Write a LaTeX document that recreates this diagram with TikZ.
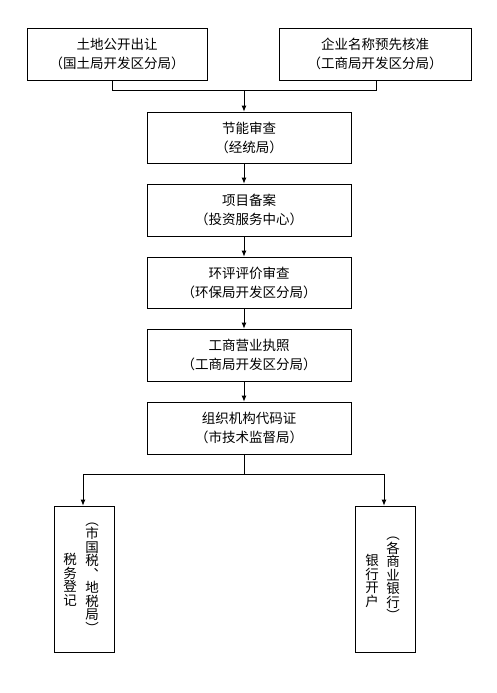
\documentclass[tikz,border=0pt]{standalone}
\usepackage{fontspec}
\setmainfont{Noto Sans CJK SC}
\usetikzlibrary{arrows.meta}
\begin{document}
\begin{tikzpicture}[x=1pt,y=-1pt,
  box/.style={draw,line width=0.8pt,inner sep=0pt,align=center,
    font=\fontsize{13.5}{19}\selectfont},
  vbox/.style={draw,line width=0.8pt,inner sep=0pt,minimum width=60pt,minimum height=146pt},
  vtext/.style={inner sep=0pt,align=center,font=\fontsize{13.5}{13.5}\selectfont},
  conn/.style={line width=0.8pt},
  arr/.style={line width=0.8pt,-{Latex[length=6pt,width=5pt]}}]
\useasboundingbox (0,0) rectangle (497,693);
\node[box,minimum width=180pt,minimum height=52pt] (b1) at (117,54) {土地公开出让\\（国土局开发区分局）};
\node[box,minimum width=192pt,minimum height=52pt] (b2) at (375,54) {企业名称预先核准\\（工商局开发区分局）};
\node[box,minimum width=204pt,minimum height=51pt] (b3) at (249,137.5) {节能审查\\（经统局）};
\node[box,minimum width=204pt,minimum height=52pt] (b4) at (249,210) {项目备案\\（投资服务中心）};
\node[box,minimum width=204pt,minimum height=51pt] (b5) at (249,282.5) {环评评价审查\\（环保局开发区分局）};
\node[box,minimum width=204pt,minimum height=52pt] (b6) at (249,355) {工商营业执照\\（工商局开发区分局）};
\node[box,minimum width=204pt,minimum height=52pt] (b7) at (249,428) {组织机构代码证\\（市技术监督局）};
\node[vbox] (b8) at (84,579) {};
\node[vbox] (b9) at (385,579) {};
\node[vtext] (t8a) at (70,580) {税\\务\\登\\记};
\node[vtext] (t8b) at (92,578) {︵\\市\\国\\税\\︑\\地\\税\\局\\︶};
\node[vtext] (t9a) at (372,581) {银\\行\\开\\户};
\node[vtext] (t9b) at (393,579) {︵\\各\\商\\业\\银\\行\\︶};
\coordinate (j1) at (244,90);
\coordinate (j2) at (244,474);
\draw[conn] ([xshift=-5pt]b1.south) |- (j1);
\draw[conn] ([xshift=1pt]b2.south) |- (j1);
\draw[arr] (j1) -- (j1 |- b3.north);
\draw[arr] ([xshift=-5pt]b3.south) -- ([xshift=-5pt]b4.north);
\draw[arr] ([xshift=-5pt]b4.south) -- ([xshift=-5pt]b5.north);
\draw[arr] ([xshift=-5pt]b5.south) -- ([xshift=-5pt]b6.north);
\draw[arr] ([xshift=-5pt]b6.south) -- ([xshift=-5pt]b7.north);
\draw[conn] ([xshift=-5pt]b7.south) -- (j2);
\draw[arr] (j2) -| ([xshift=-1pt]b8.north);
\draw[arr] (j2) -| ([xshift=-1pt]b9.north);
\end{tikzpicture}
\end{document}
